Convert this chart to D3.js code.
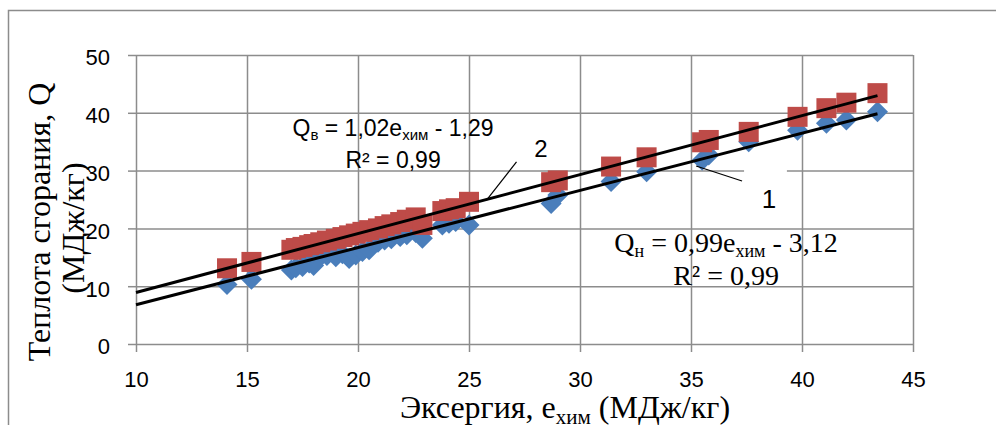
<!DOCTYPE html>
<html lang="ru">
<head>
<meta charset="UTF-8">
<title>Теплота сгорания и эксергия</title>
<style>
    body { margin: 0; background: #fff; }
    svg { display: block; }
    .grid line { stroke: #8c8c8c; stroke-width: 1.5; }
    .axis line { stroke: #8c8c8c; stroke-width: 1.5; }
    .axis text { font-family: "Liberation Sans", Arial, sans-serif; font-size: 22px; fill: #000; }
    .serif { font-family: "Liberation Serif", "Times New Roman", serif; fill: #000; }
    .sans { font-family: "Liberation Sans", Arial, sans-serif; fill: #000; }
</style>
</head>
<body>
<div id="chart"></div>
<script src="https://d3js.org/d3.v7.min.js"></script>
<script>
    // exergy, MJ/kg
    const eChem = [14.1, 15.2, 17.0, 17.2, 17.5, 17.8, 18.0, 18.3, 18.6, 19.0,
                   19.3, 19.6, 19.9, 20.2, 20.5, 20.9, 21.2, 21.5, 21.9, 22.2,
                   22.6, 22.9, 23.8, 24.1, 24.4, 25.0, 28.7, 29.0, 31.4, 33.0,
                   35.5, 35.8, 37.6, 39.8, 41.1, 42.0, 43.4];
    // higher heating value (series 2, squares)
    const qHigh = [13.1, 14.2, 16.3, 16.6, 16.8, 17.1, 17.3, 17.6, 17.9, 18.2,
                   18.5, 18.8, 19.1, 19.4, 19.7, 20.0, 20.4, 20.7, 21.1, 21.5,
                   21.9, 20.6, 23.0, 23.3, 23.5, 24.6, 28.0, 28.3, 30.7, 32.3,
                   34.9, 35.3, 36.7, 39.3, 40.8, 41.75, 43.4];
    // lower heating value (series 1, diamonds)
    const qLow = [10.3, 11.2, 12.8, 13.2, 13.4, 14.0, 13.6, 15.1, 15.3, 15.1,
                  15.6, 14.8, 15.4, 16.0, 16.3, 17.6, 18.0, 18.2, 18.6, 18.9,
                  19.3, 18.3, 20.6, 20.9, 21.2, 20.6, 24.3, 25.8, 28.1, 29.8,
                  31.8, 32.7, 35.0, 37.0, 38.2, 38.75, 40.2];

    // trend lines  Q = a*e + b
    const trendHigh = { a: 1.02, b: -1.29 };
    const trendLow = { a: 0.99, b: -3.12 };

    const xTicks = [10, 15, 20, 25, 30, 35, 40, 45];
    const yTicks = [0, 10, 20, 30, 40, 50];

    const width = 996, height = 425;
    const margin = { left: 136, right: 83, top: 55, bottom: 81 };

    const svg = d3.select("#chart").append("svg")
        .attr("width", width)
        .attr("height", height);

    // outer chart frame (runs off the picture right and bottom)
    svg.append("path")
        .attr("d", `M8.5,${height + 5}V10.5H${width + 5}`)
        .attr("fill", "none")
        .attr("stroke", "#8c8c8c")
        .attr("stroke-width", 1.5);

    const x = d3.scaleLinear().domain([10, 45]).range([margin.left, width - margin.right]);
    const y = d3.scaleLinear().domain([0, 50]).range([height - margin.bottom, margin.top]);

    // grid
    svg.append("g")
        .attr("class", "grid")
        .attr("transform", `translate(0,${y(0)})`)
        .call(d3.axisBottom(x).tickValues(xTicks).tickSize(-(y(0) - y(50))).tickFormat(""))
        .call(g => g.select(".domain").remove());
    svg.append("g")
        .attr("class", "grid")
        .attr("transform", `translate(${x(10)},0)`)
        .call(d3.axisLeft(y).tickValues(yTicks).tickSize(-(x(45) - x(10))).tickFormat(""))
        .call(g => g.select(".domain").remove());

    // axes with outside ticks
    svg.append("g")
        .attr("class", "axis")
        .attr("transform", `translate(0,${y(0)})`)
        .call(d3.axisBottom(x).tickValues(xTicks).tickSize(8).tickPadding(19))
        .call(g => g.select(".domain").remove())
        .call(g => g.selectAll("text").attr("dy", "0.71em"));
    svg.append("g")
        .attr("class", "axis")
        .attr("transform", `translate(${x(10)},0)`)
        .call(d3.axisLeft(y).tickValues(yTicks).tickSize(8).tickPadding(18))
        .call(g => g.select(".domain").remove())
        .call(g => g.selectAll("text").attr("dy", "0.45em"));

    const points = eChem.map((e, i) => ({ e, hi: qHigh[i], lo: qLow[i] }));

    // series 1: diamonds
    const dR = 10.5;
    svg.append("g")
        .selectAll("path")
        .data(points)
        .enter().append("path")
        .attr("d", d => `M${x(d.e)},${y(d.lo) - dR}l${dR},${dR}l${-dR},${dR}l${-dR},${-dR}Z`)
        .attr("fill", "#4A7EBB");

    // series 2: squares
    const sq = 20;
    svg.append("g")
        .selectAll("rect")
        .data(points)
        .enter().append("rect")
        .attr("x", d => x(d.e) - sq / 2)
        .attr("y", d => y(d.hi) - sq / 2)
        .attr("width", sq)
        .attr("height", sq)
        .attr("fill", "#BE4B48");

    // trend lines
    const eMax = d3.max(eChem);
    [trendHigh, trendLow].forEach(t => {
        svg.append("line")
            .attr("x1", x(10)).attr("y1", y(t.a * 10 + t.b))
            .attr("x2", x(eMax)).attr("y2", y(t.a * eMax + t.b))
            .attr("stroke", "#000")
            .attr("stroke-width", 3);
    });

    // equation labels
    const eqHigh = svg.append("g").attr("class", "sans").attr("font-size", 23).attr("text-anchor", "middle");
    const t1 = eqHigh.append("text").attr("x", x(21.58)).attr("y", y(35.99));
    t1.append("tspan").text("Q");
    t1.append("tspan").attr("font-size", 15).attr("dy", 4).text("в");
    t1.append("tspan").attr("dy", -4).text(" = 1,02e");
    t1.append("tspan").attr("font-size", 15).attr("dy", 4).text("хим");
    t1.append("tspan").attr("dy", -4).text(" - 1,29");
    eqHigh.append("text").attr("x", x(21.58)).attr("y", y(30.45)).text("R² = 0,99");

    const eqLow = svg.append("g").attr("class", "serif").attr("font-size", 28).attr("text-anchor", "middle");
    const t2 = eqLow.append("text").attr("x", x(36.58)).attr("y", y(15.92));
    t2.append("tspan").text("Q");
    t2.append("tspan").attr("font-size", 18).attr("dy", 5).text("н");
    t2.append("tspan").attr("dy", -5).text(" = 0,99e");
    t2.append("tspan").attr("font-size", 18).attr("dy", 5).text("хим");
    t2.append("tspan").attr("dy", -5).text(" - 3,12");
    eqLow.append("text").attr("x", x(36.58)).attr("y", y(10.2)).text("R² = 0,99");

    // labels 1 and 2 with leader lines
    svg.append("rect")
        .attr("x", x(37.39)).attr("y", y(30.45))
        .attr("width", x(39.32) - x(37.39)).attr("height", y(22.5) - y(30.45))
        .attr("fill", "#fff");
    svg.append("line")
        .attr("x1", x(27.14)).attr("y1", y(31.5))
        .attr("x2", x(25.79)).attr("y2", y(24.9))
        .attr("stroke", "#000").attr("stroke-width", 1.2);
    svg.append("line")
        .attr("x1", x(35.23)).attr("y1", y(30.8))
        .attr("x2", x(37.3)).attr("y2", y(28.2))
        .attr("stroke", "#000").attr("stroke-width", 1.2);
    svg.append("text").attr("class", "sans").attr("font-size", 24).attr("text-anchor", "middle")
        .attr("x", x(28.24)).attr("y", y(32.35)).text("2");
    svg.append("text").attr("class", "sans").attr("font-size", 26).attr("text-anchor", "middle")
        .attr("x", x(38.51)).attr("y", y(23.5)).text("1");

    // axis titles
    const xt = svg.append("text").attr("class", "serif").attr("font-size", 32).attr("text-anchor", "middle")
        .attr("x", 565).attr("y", 418);
    xt.append("tspan").text("Эксергия, e");
    xt.append("tspan").attr("font-size", 21).attr("dy", 6).text("хим");
    xt.append("tspan").attr("dy", -6).text(" (МДж/кг)");

    svg.append("text").attr("class", "serif").attr("font-size", 32).attr("text-anchor", "middle")
        .attr("transform", "translate(50,222) rotate(-90)")
        .text("Теплота сгорания, Q");
    svg.append("text").attr("class", "serif").attr("font-size", 32).attr("text-anchor", "middle")
        .attr("transform", "translate(84,228) rotate(-90)")
        .text("(МДж/кг)");
</script>
</body>
</html>
